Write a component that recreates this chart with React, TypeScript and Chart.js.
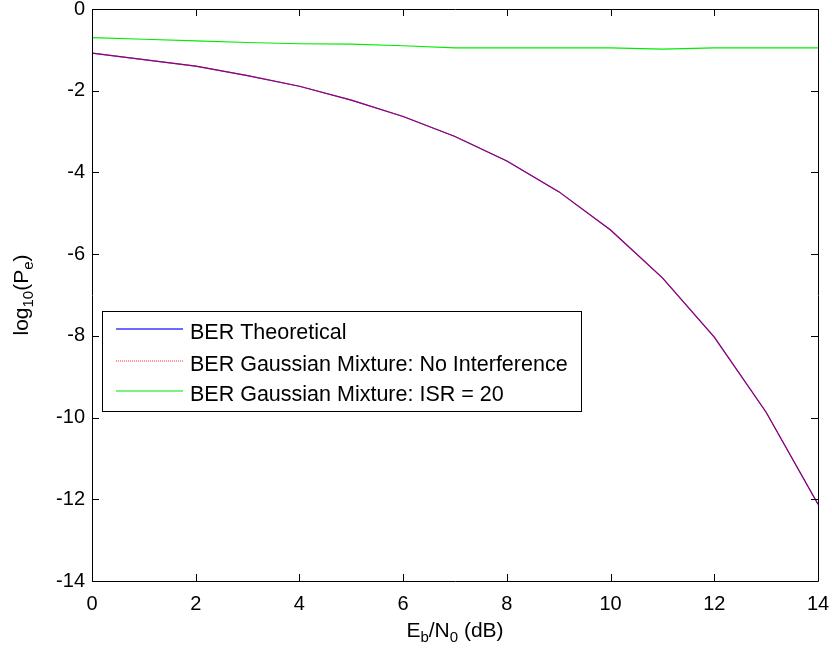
import React, { useEffect, useRef } from "react";
import { Chart, registerables } from "chart.js";

Chart.register(...registerables);

const ebn0 = [0, 1, 2, 3, 4, 5, 6, 7, 8, 9, 10, 11, 12, 13, 14];
const berTheoretical = [-1.08, -1.24, -1.40, -1.63, -1.89, -2.23, -2.63, -3.12, -3.72, -4.47, -5.41, -6.58, -8.03, -9.87, -12.12];
const berNoInterference = [-1.08, -1.24, -1.40, -1.63, -1.89, -2.23, -2.63, -3.12, -3.72, -4.47, -5.41, -6.58, -8.03, -9.87, -12.12];
const berISR20 = [-0.70, -0.74, -0.78, -0.82, -0.85, -0.86, -0.90, -0.95, -0.95, -0.95, -0.95, -0.98, -0.95, -0.95, -0.95];
const legendLabels = ["BER Theoretical", "BER Gaussian Mixture: No Interference", "BER Gaussian Mixture: ISR = 20"];
const xTicks = [0, 2, 4, 6, 8, 10, 12, 14];
const yTicks = [0, -2, -4, -6, -8, -10, -12, -14];

const FONT = "'Liberation Sans', Arial, sans-serif";

const toPts = (arr: number[]) => ebn0.map((x, i) => ({ x, y: arr[i] }));

const decorPlugin = {
  id: "decor",
  afterDraw(chart: any) {
    const ctx = chart.ctx as CanvasRenderingContext2D;
    const { left, right, top, bottom } = chart.chartArea;
    const xs = chart.scales.x;
    const ys = chart.scales.y;
    ctx.save();
    ctx.globalAlpha = 1;
    ctx.globalCompositeOperation = "source-over";
    // box
    ctx.strokeStyle = "#000000";
    ctx.lineWidth = 1;
    ctx.setLineDash([]);
    ctx.beginPath();
    ctx.rect(Math.round(left) + 0.5, Math.round(top) + 0.5, Math.round(right - left), Math.round(bottom - top));
    ctx.stroke();
    // ticks
    const tl = 7;
    ctx.beginPath();
    xTicks.forEach((v) => {
      const px = Math.round(xs.getPixelForValue(v)) + 0.5;
      ctx.moveTo(px, bottom);
      ctx.lineTo(px, bottom - tl);
      ctx.moveTo(px, top);
      ctx.lineTo(px, top + tl);
    });
    yTicks.forEach((v) => {
      const py = Math.round(ys.getPixelForValue(v)) + 0.5;
      ctx.moveTo(left, py);
      ctx.lineTo(left + tl, py);
      ctx.moveTo(right, py);
      ctx.lineTo(right - tl, py);
    });
    ctx.stroke();

    // legend
    const lx = 102, ly = 311, lw = 479, lh = 100;
    ctx.fillStyle = "#ffffff";
    ctx.fillRect(lx, ly, lw, lh);
    ctx.strokeStyle = "#000000";
    ctx.strokeRect(lx + 0.5, ly + 0.5, lw, lh);
    const rows = [329, 361, 391];
    const colors = ["#3838ff", "#ff7070", "#50f050"];
    const dashes = [[], [1, 1], []];
    rows.forEach((ry, i) => {
      ctx.save();
      ctx.strokeStyle = colors[i];
      ctx.lineWidth = 1.4;
      ctx.setLineDash(dashes[i]);
      ctx.beginPath();
      ctx.moveTo(116, ry);
      ctx.lineTo(183, ry);
      ctx.stroke();
      ctx.restore();
    });
    ctx.font = `21.5px ${FONT}`;
    ctx.textBaseline = "alphabetic";
    ctx.textAlign = "left";
    ctx.fillStyle = "#000000";
    rows.forEach((ry, i) => {
      ctx.fillText(legendLabels[i], 190, ry + 10);
    });

    const measure = (t: string, sub: boolean) => {
      ctx.font = sub ? `15px ${FONT}` : `21px ${FONT}`;
      return ctx.measureText(t).width;
    };
    // x axis title: E_b/N_0 (dB)
    const parts: [string, boolean][] = [["E", false], ["b", true], ["/N", false], ["0", true], [" (dB)", false]];
    let total = 0;
    parts.forEach(([t, s]) => (total += measure(t, s)));
    let cx = (left + right) / 2 - total / 2;
    const bx = 637;
    parts.forEach(([t, s]) => {
      const w = measure(t, s);
      ctx.fillText(t, cx, s ? bx + 5 : bx);
      cx += w;
    });

    // y axis title: log_10(P_e)
    const yparts: [string, boolean][] = [["log", false], ["10", true], ["(P", false], ["e", true], [")", false]];
    let ytotal = 0;
    yparts.forEach(([t, s]) => (ytotal += measure(t, s)));
    ctx.translate(28, (top + bottom) / 2);
    ctx.rotate(-Math.PI / 2);
    let yx = -ytotal / 2;
    yparts.forEach(([t, s]) => {
      const w = measure(t, s);
      ctx.fillText(t, yx, s ? 5 : 0);
      yx += w;
    });
    ctx.restore();
  },
};

export default function App() {
  const ref = useRef<HTMLCanvasElement>(null);
  useEffect(() => {
    if (!ref.current) return;
    const chart = new Chart(ref.current, {
      type: "line",
      data: {
        datasets: [
          {
            label: legendLabels[0],
            data: toPts(berTheoretical),
            borderColor: "rgb(0,0,255)",
            borderWidth: 1.2,
            pointRadius: 0,
            tension: 0,
            order: 3,
          },
          {
            label: legendLabels[1],
            data: toPts(berNoInterference),
            borderColor: "rgba(255,0,0,0.6)",
            borderWidth: 1.2,
            pointRadius: 0,
            tension: 0,
            order: 1,
          },
          {
            label: legendLabels[2],
            data: toPts(berISR20),
            borderColor: "rgb(0,235,0)",
            borderWidth: 1.2,
            pointRadius: 0,
            tension: 0,
            order: 2,
          },
        ],
      },
      options: {
        animation: false,
        responsive: false,
        devicePixelRatio: 1,
        layout: { padding: { left: 0, top: 9, right: 14, bottom: 0 } },
        plugins: { legend: { display: false }, tooltip: { enabled: false } },
        scales: {
          x: {
            type: "linear",
            min: 0,
            max: 14,
            grid: { display: false, drawTicks: false },
            border: { display: false },
            ticks: {
              stepSize: 2,
              padding: 11,
              color: "#000",
              font: { family: FONT, size: 20 },
              maxRotation: 0,
            },
            afterFit: (s: any) => {
              s.height = 69;
              s.paddingLeft = 0;
              s.paddingRight = 0;
            },
          },
          y: {
            type: "linear",
            min: -14,
            max: 0,
            grid: { display: false, drawTicks: false },
            border: { display: false },
            ticks: {
              stepSize: 2,
              padding: 7,
              color: "#000",
              font: { family: FONT, size: 20 },
            },
            afterFit: (s: any) => {
              s.width = 92;
              s.paddingTop = 0;
              s.paddingBottom = 0;
            },
          },
        },
      },
      plugins: [decorPlugin],
    } as any);
    return () => chart.destroy();
  }, []);
  return (
    <div style={{ position: "fixed", left: 0, top: 0, width: 832, height: 650, background: "#fff" }}>
      <canvas ref={ref} width={832} height={650} />
    </div>
  );
}
